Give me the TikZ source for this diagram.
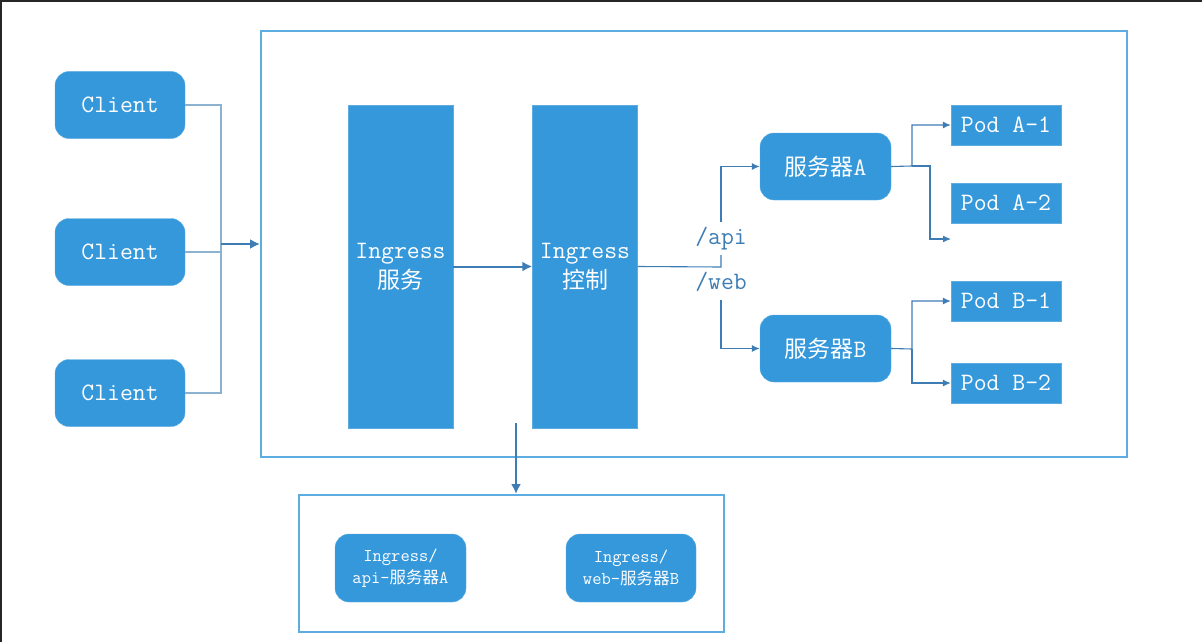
\documentclass[tikz,border=0pt]{standalone}
\usepackage{fontspec}
\usetikzlibrary{arrows.meta}
\newfontfamily\cjk[Scale=0.92]{Noto Sans CJK SC}
\newcommand{\zh}[1]{{\cjk #1}}
\definecolor{boxblue}{HTML}{3598DB}
\definecolor{frameblue}{HTML}{5DADE2}
\definecolor{linkblue}{HTML}{3D7DB4}
\definecolor{feedblue}{HTML}{8CB2D1}

\begin{document}
\begin{tikzpicture}[x=1pt, y=-1pt, >={Latex[length=10pt,width=10pt]},
  block/.style={fill=boxblue, draw=boxblue!80!white, text=white, align=center,
    inner sep=0pt, font=\ttfamily\fontsize{25}{30}\selectfont},
  rblock/.style={block, rounded corners=14pt},
  small/.style={font=\ttfamily\fontsize{18}{22}\selectfont},
  frame/.style={draw=frameblue, line width=2pt, inner sep=0pt},
  wire/.style={draw=linkblue, line width=1.1pt, -{Latex[length=8pt,width=7pt]}},
  feed/.style={draw=feedblue, line width=1.3pt},
  flow/.style={draw=linkblue, line width=2pt, ->},
  tag/.style={text=linkblue, inner sep=0pt, text height=18pt, text depth=6pt,
    minimum height=33pt, font=\ttfamily\fontsize{25}{30}\selectfont}]
  \useasboundingbox (0,0) rectangle (1202,642);

  % Screenshot edge
  \draw[black!85, line width=4pt] (0,642) -- (0,0) -- (1202,0);

  % Clients
  \node[rblock, minimum width=130, minimum height=67] (c1) at (120,105) {Client};
  \node[rblock, minimum width=130, minimum height=67] (c2) at (120,252) {Client};
  \node[rblock, minimum width=130, minimum height=67] (c3) at (120,393) {Client};

  % Cluster and rules box
  \node[frame, minimum width=866, minimum height=426] (cluster) at (694,244) {};
  \node[frame, minimum width=425, minimum height=137] (rules) at (511.5,563.5) {};

  % Clients into the cluster
  \coordinate (bus) at (221,244);
  \draw[feed] (c1.east) -| (bus) |- (c3.east);
  \draw[feed] (c2.east) -- (c2.east -| bus);
  \draw[flow] (bus) -- (cluster.west);

  % Ingress
  \node[block, minimum width=105, minimum height=323] (isvc) at (400.5,266.5) {Ingress\\\zh{服务}};
  \node[block, minimum width=105, minimum height=323] (ictl) at (585,266.5) {Ingress\\\zh{控制}};
  \draw[flow] (isvc) -- (ictl);

  % Servers
  \node[rblock, minimum width=131, minimum height=67] (sa) at (825.5,166.5) {\zh{服务器}A};
  \node[rblock, minimum width=131, minimum height=67] (sb) at (825.5,348.5) {\zh{服务器}B};

  % Routing by path
  \coordinate (split) at (721,267);
  \node[tag] (api) at (721,238.5) {/api};
  \node[tag] (web) at (721,283) {/web};
  \draw[feed, draw=linkblue, line width=1.1pt] (ictl.east) -- (split) -- (api.south);
  \draw[wire] (api.north) |- (sa.west);
  \draw[wire] (web.south) |- (sb.west);

  % Pods
  \node[block, minimum width=110, minimum height=40] (pa1) at (1006,125) {Pod A-1};
  \node[block, minimum width=110, minimum height=40] (pa2) at (1006,203) {Pod A-2};
  \node[block, minimum width=110, minimum height=40] (pb1) at (1006,301) {Pod B-1};
  \node[block, minimum width=110, minimum height=40] (pb2) at (1006,383) {Pod B-2};

  \coordinate (fa) at (912,166);
  \coordinate (fa2) at (930,166);
  \coordinate (stray) at (951,239);
  \draw[wire] (sa.east) -- (fa) |- (pa1.west);
  \draw[wire] (fa) -- (fa2) |- (stray);
  \coordinate (fb) at (912,349);
  \draw[wire] (sb.east) -- (fb) |- (pb1.west);
  \draw[wire] (fb) |- (pb2.west);

  % Rules
  \coordinate (drop) at (516,423);
  \draw[flow] (drop) -- (drop |- rules.north);
  \node[rblock, small, minimum width=131, minimum height=68] (ra) at (400.5,568) {Ingress/\\api-\zh{服务器}A};
  \node[rblock, small, minimum width=130, minimum height=68] (rb) at (631,568) {Ingress/\\web-\zh{服务器}B};
\end{tikzpicture}
\end{document}
